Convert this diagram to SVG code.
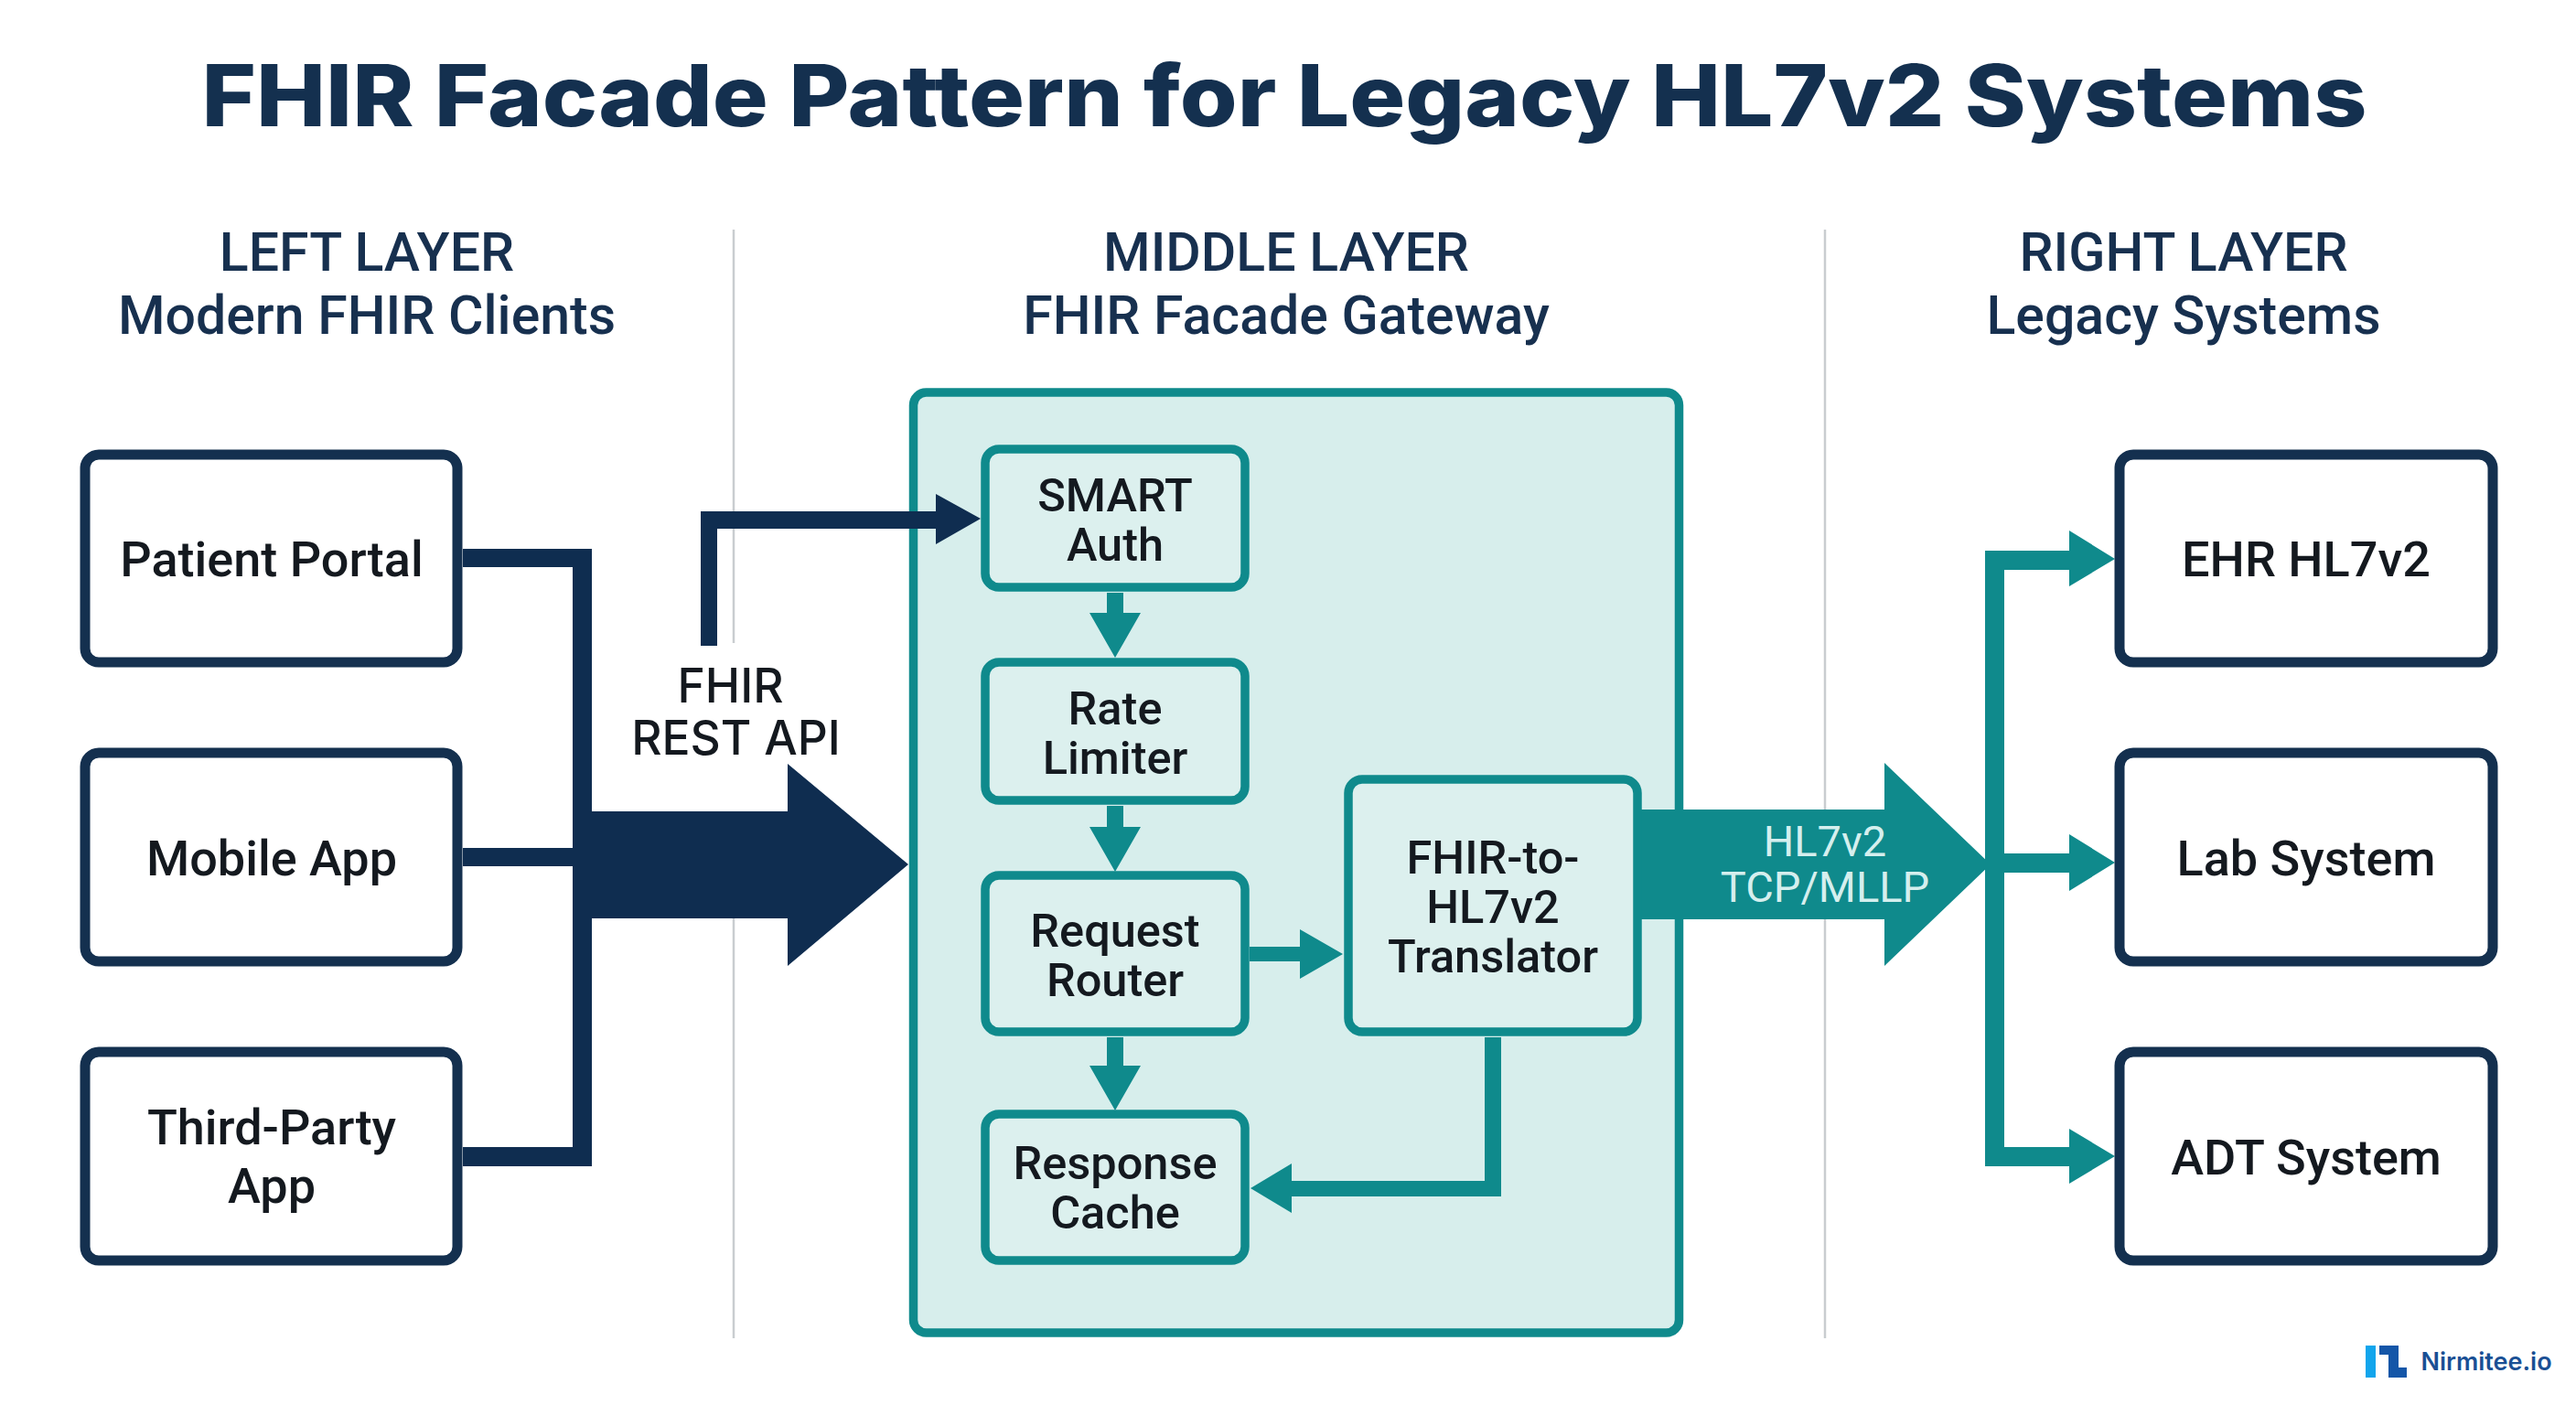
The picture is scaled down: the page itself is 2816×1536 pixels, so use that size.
<svg xmlns="http://www.w3.org/2000/svg" width="2816" height="1536" viewBox="0 0 2816 1536">
<style>
text{font-family:"Roboto","Liberation Sans",sans-serif;text-anchor:middle}
.title{font-family:"Inter","Liberation Sans",sans-serif;font-size:93px;font-weight:800;fill:#14304f}
.head{font-size:59px;font-weight:500;fill:#17304f}
.node{font-size:54px;font-weight:500;fill:#14191f}
.inner{font-size:50.5px;font-weight:500;fill:#14191f}
.wire{font-family:"Inter","Liberation Sans",sans-serif;font-size:51.5px;font-weight:500;fill:#14191f}
.pipe{font-size:47px;font-weight:400;fill:#d5efee}
.outer{fill:#fff;stroke:#14304f;stroke-width:11}
.box{fill:#dcf0ee;stroke:#0f8a8c;stroke-width:9.5}
.navy{fill:#0f2d50}
.teal{fill:#0f8a8c}
.div{stroke:#c9cdd0;stroke-width:2.5;fill:none}
</style>
<rect width="2816" height="1536" fill="#fff"/>
<text class="title" x="1404" y="138" textLength="2367" lengthAdjust="spacingAndGlyphs">FHIR Facade Pattern for Legacy HL7v2 Systems</text>
<g id="dividers">
<path class="div" d="M802 251V703M802 1000V1463"/>
<path class="div" d="M1995 251V1463"/>
</g>
<g id="headers">
<text class="head" x="401" y="296">LEFT LAYER</text>
<text class="head" x="401" y="365">Modern FHIR Clients</text>
<text class="head" x="1406" y="296">MIDDLE LAYER</text>
<text class="head" x="1406" y="365">FHIR Facade Gateway</text>
<text class="head" x="2387" y="296">RIGHT LAYER</text>
<text class="head" x="2387" y="365">Legacy Systems</text>
</g>
<g id="gateway"><rect x="998.5" y="429" width="837" height="1028" rx="14" fill="#d7eeec" stroke="#0f8a8c" stroke-width="9.500"/></g>
<g id="connectors">
<path class="navy" d="M506 600H647V1275H506V1254H626V947H506V927H626V620H506Z"/>
<path class="navy" d="M626 887H861V835L993 945L861 1056V1004H626Z"/>
<path class="navy" d="M766 706V559H1023V540L1072 567L1023 595V578H784V706Z"/>
<path class="teal" d="M1210 648H1228V670H1247L1219 719L1191 670H1210Z"/>
<path class="teal" d="M1210 881H1228V904H1247L1219 953L1191 904H1210Z"/>
<path class="teal" d="M1210 1134H1228V1165H1247L1219 1214L1191 1165H1210Z"/>
<path class="teal" d="M1366 1035H1421V1016L1468 1043L1421 1070V1051H1366Z"/>
<path class="teal" d="M1623 1134H1641V1308H1412V1326L1367 1299L1412 1272V1291H1623Z"/>
<path class="teal" d="M1790 885H2060V834L2176 945L2060 1056V1005H1790Z"/>
<path class="teal" d="M2170 602H2262V580L2312 611L2262 641V623H2191V933H2262V912L2312 943L2262 974V954H2191V1254H2262V1234L2312 1264L2262 1294V1275H2170Z"/>
</g>
<g id="fhir-rest-label">
<text class="wire" x="798.500" y="768">FHIR</text>
<text class="wire" x="804.500" y="825">REST API</text>
</g>
<g id="hl7-label">
<text class="pipe" x="1995" y="936">HL7v2</text>
<text class="pipe" x="1995" y="986">TCP/MLLP</text>
</g>
<g id="patient-portal"><rect class="outer" x="93" y="497" width="407" height="227" rx="15"/><text class="node" x="297" y="630">Patient Portal</text></g>
<g id="mobile-app"><rect class="outer" x="93" y="823" width="407" height="228" rx="15"/><text class="node" x="297" y="957">Mobile App</text></g>
<g id="third-party-app"><rect class="outer" x="93" y="1150" width="407" height="228" rx="15"/><text class="node" x="297" y="1251">Third-Party</text><text class="node" x="297" y="1315">App</text></g>
<g id="smart-auth"><rect class="box" x="1077" y="491" width="284" height="151" rx="15"/><text class="inner" x="1219" y="559">SMART</text><text class="inner" x="1219" y="613">Auth</text></g>
<g id="rate-limiter"><rect class="box" x="1077" y="724" width="284" height="151" rx="15"/><text class="inner" x="1219" y="792">Rate</text><text class="inner" x="1219" y="846">Limiter</text></g>
<g id="request-router"><rect class="box" x="1077" y="957" width="284" height="171" rx="15"/><text class="inner" x="1219" y="1035">Request</text><text class="inner" x="1219" y="1089">Router</text></g>
<g id="response-cache"><rect class="box" x="1077" y="1218" width="284" height="160" rx="15"/><text class="inner" x="1219" y="1289">Response</text><text class="inner" x="1219" y="1343">Cache</text></g>
<g id="translator"><rect class="box" x="1474" y="852" width="316" height="276" rx="15"/><text class="inner" x="1632" y="955">FHIR-to-</text><text class="inner" x="1632" y="1009">HL7v2</text><text class="inner" x="1632" y="1063">Translator</text></g>
<g id="ehr-hl7v2"><rect class="outer" x="2317" y="497" width="408" height="227" rx="15"/><text class="node" x="2521" y="630">EHR HL7v2</text></g>
<g id="lab-system"><rect class="outer" x="2317" y="823" width="408" height="228" rx="15"/><text class="node" x="2521" y="957">Lab System</text></g>
<g id="adt-system"><rect class="outer" x="2317" y="1150" width="408" height="228" rx="15"/><text class="node" x="2521" y="1284">ADT System</text></g>
<g id="logo">
<rect x="2586" y="1471" width="11" height="35" fill="#12a5ec"/>
<path d="M2601 1471H2622V1495H2631V1506H2611V1481H2601Z" fill="#1456a8"/>
<text x="2718" y="1498" font-size="27" font-weight="600" style="font-family:Inter,'Liberation Sans',sans-serif" fill="#1a4f94">Nirmitee.io</text>
</g>
</svg>
